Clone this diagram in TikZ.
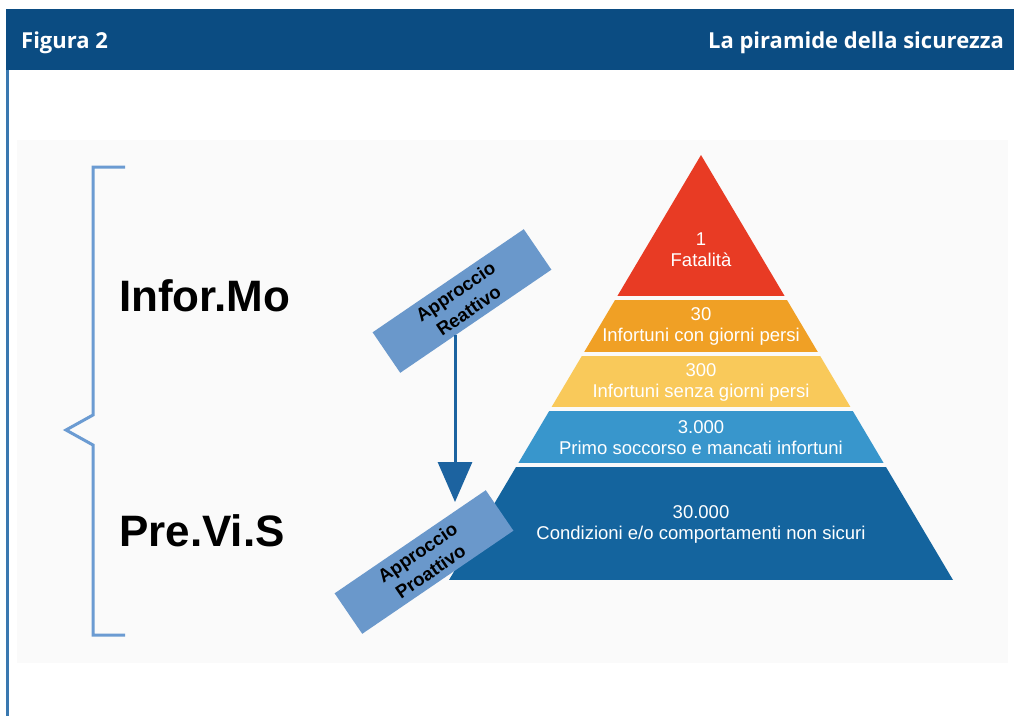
\documentclass[tikz,border=0pt]{standalone}
\usepackage{fontspec}
\setmainfont{Liberation Sans}
\newfontfamily\headfont{Open Sans}
\usetikzlibrary{arrows.meta}

\definecolor{headblue}{HTML}{0B4C82}
\definecolor{edgeblue}{HTML}{3A78B0}
\definecolor{panelgray}{HTML}{FAFAFA}
\definecolor{bracecol}{HTML}{6B9BD2}
\definecolor{boxblue}{HTML}{6A98CB}
\definecolor{arrowblue}{HTML}{1C63A0}
\definecolor{lvred}{HTML}{E83B24}
\definecolor{lvorange}{HTML}{F0A025}
\definecolor{lvyellow}{HTML}{F9C95A}
\definecolor{lvlight}{HTML}{3896CC}
\definecolor{lvdark}{HTML}{14649E}

\tikzset{
  headtext/.style={text=white, font=\headfont\bfseries\fontsize{22}{26}\selectfont, inner sep=0pt},
  bandtext/.style={text=white, align=center, inner sep=0pt, font=\fontsize{18.5}{21}\selectfont},
  bigtext/.style={text=black, inner sep=0pt, font=\bfseries\fontsize{44}{50}\selectfont},
  apbox/.style={fill=boxblue, minimum width=183pt, minimum height=49pt, inner sep=0pt,
    align=center, font=\bfseries\fontsize{18.5}{23}\selectfont, text=black},
  bracestyle/.style={draw=bracecol, line width=3pt},
  flow/.style={draw=arrowblue, line width=3pt, -{Triangle[width=34pt,length=40pt]}, arrowblue}
}

\begin{document}
\begin{tikzpicture}[x=1pt,y=-1pt]
  \useasboundingbox (0,0) rectangle (1014,716);
  \fill[white] (0,0) rectangle (1014,716);

  % header bar and left rule
  \fill[headblue] (6,9) rectangle (1014,70);
  \fill[edgeblue] (6,70) rectangle (8.5,716);
  \node[headtext, anchor=base west] (fig) at (21,48) {Figura 2};
  \node[headtext, anchor=base east] (title) at (1004,48) {La piramide della sicurezza};

  % light panel
  \fill[panelgray] (17,140) rectangle (1008,663);

  % pyramid bands
  \begin{scope}
    \clip (701,155) -- (449,580) -- (953,580) -- cycle;
    \fill[lvred]    (400,140) rectangle (1000,296);
    \fill[lvorange] (400,300) rectangle (1000,352);
    \fill[lvyellow] (400,356) rectangle (1000,407);
    \fill[lvlight]  (400,411) rectangle (1000,463);
    \fill[lvdark]   (400,467) rectangle (1000,580);
  \end{scope}
  \node[bandtext] (l1) at (701,250) {1\\Fatalità};
  \node[bandtext] (l2) at (701,326) {30\\Infortuni con giorni persi};
  \node[bandtext] (l3) at (701,382) {300\\Infortuni senza giorni persi};
  \node[bandtext] (l4) at (701,438) {3.000\\Primo soccorso e mancati infortuni};
  \node[bandtext] (l5) at (701,524) {30.000\\Condizioni e/o comportamenti non sicuri};

  % bracket
  \draw[bracestyle] (125,167) -- (93,167) -- (93,415) -- (66,430) -- (93,445) -- (93,635) -- (125,635);

  % side labels
  \node[bigtext, anchor=base west] (infor) at (119,311) {Infor.Mo};
  \node[bigtext, anchor=base west] (previs) at (119,546) {Pre.Vi.S};

  % approach boxes and arrow
  \node[apbox, rotate=34.3] (reatt) at (462,301) {Approccio\\Reattivo};
  \coordinate (rstart) at (455,335);
  \coordinate (tip) at (455,502);
  \draw[flow] (rstart) -- (tip);
  \node[apbox, rotate=34.3] (proatt) at (424,562) {Approccio\\Proattivo};
\end{tikzpicture}
\end{document}
